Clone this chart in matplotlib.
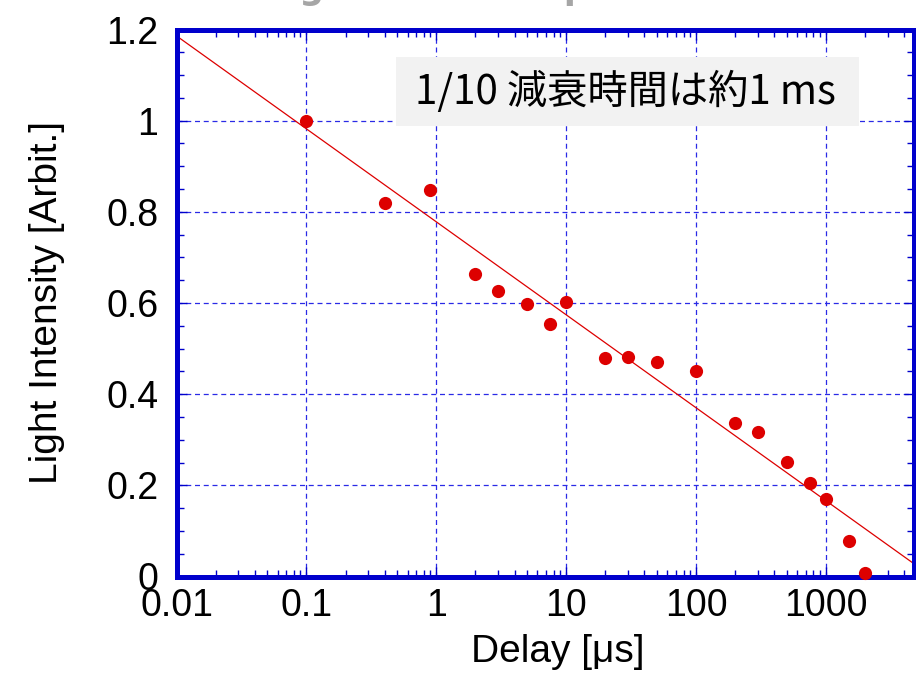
import matplotlib
matplotlib.use("Agg")
import matplotlib.pyplot as plt
import numpy as np
from matplotlib.ticker import FixedLocator, LogLocator, MultipleLocator, NullFormatter
from matplotlib.patches import Rectangle

# data
delay = [0.1, 0.4, 0.9, 2, 3, 5, 7.5, 10, 20, 30, 50, 100, 200, 300, 500, 750, 1000, 1500, 2000]
intensity = [1.0, 0.82, 0.848, 0.664, 0.626, 0.598, 0.554, 0.602, 0.480, 0.482, 0.471, 0.451,
             0.336, 0.318, 0.252, 0.206, 0.169, 0.077, 0.007]

# fitted line: y = a + b*log10(x)
fit_a = 0.778
fit_b = -0.204

xticks = [0.01, 0.1, 1, 10, 100, 1000]
xticklabels = ['0.01', '0.1', '1', '10', '100', '1000']
yticks = [0, 0.2, 0.4, 0.6, 0.8, 1.0, 1.2]
yticklabels = ['0', '0.2', '0.4', '0.6', '0.8', '1', '1.2']

note = '1/10 減衰時間は約1 ms'
title = 'Afterglow Time Dependence'

blue = '#0000cc'
red = '#dd0000'

plt.rcParams['font.family'] = ['Liberation Sans', 'DejaVu Sans']

fig = plt.figure(figsize=(9.16, 6.76), dpi=100)
ax = fig.add_axes([176.5 / 916, 99.5 / 676, 737.5 / 916, 547 / 676])

ax.set_xscale('log')
ax.set_xlim(0.01, 4750)
ax.set_ylim(0, 1.2)

# fit line
xf = np.logspace(-2, np.log10(4750), 200)
ax.plot(xf, fit_a + fit_b * np.log10(xf), color=red, lw=0.9, zorder=3)

# data points
ax.plot(delay, intensity, 'o', color=red, markersize=9.5, markeredgewidth=0,
        clip_on=False, zorder=5)

# grid
ax.grid(True, which='major', color='#2a2ae6', linestyle=(0, (4, 3)), linewidth=0.9)

# ticks
ax.xaxis.set_major_locator(FixedLocator(xticks))
ax.set_xticklabels(xticklabels)
ax.xaxis.set_minor_locator(LogLocator(base=10, subs=np.arange(2, 10), numticks=20))
ax.xaxis.set_minor_formatter(NullFormatter())
ax.set_yticks(yticks)
ax.set_yticklabels(yticklabels)
ax.yaxis.set_minor_locator(MultipleLocator(0.05))
ax.tick_params(which='both', direction='in', top=True, right=True, color=blue,
               labelsize=27, labelcolor='black')
ax.tick_params(which='major', length=7, width=1)
ax.tick_params(which='minor', length=5, width=1)
ax.tick_params(axis='x', which='major', pad=8)
ax.tick_params(axis='y', which='major', pad=13)

for s in ax.spines.values():
    s.set_color(blue)
    s.set_linewidth(3.6)
    s.set_zorder(4)

ax.set_xlabel('Delay [μs]', fontsize=28, labelpad=6)
ax.xaxis.set_label_coords(0.517, -0.105)
ax.set_ylabel('Light Intensity [Arbit.]', fontsize=28, labelpad=30)

# note box
ax.add_patch(Rectangle((0.298, 0.823), 0.627, 0.126, transform=ax.transAxes,
                       facecolor='#f2f2f2', edgecolor='none', zorder=6))
ax.text(0.609, 0.885, note, transform=ax.transAxes, ha='center', va='center',
        fontsize=29, color='black', zorder=7,
        family=['Noto Sans CJK JP', 'DejaVu Sans'])

# clipped gray title at the very top
fig.text(200 / 916, 1.0 + 1 / 676, title, ha='left', va='baseline', fontsize=25,
         fontweight='bold', color='#a6a6a6', family='DejaVu Sans')

fig.savefig('out.png', dpi=100)
